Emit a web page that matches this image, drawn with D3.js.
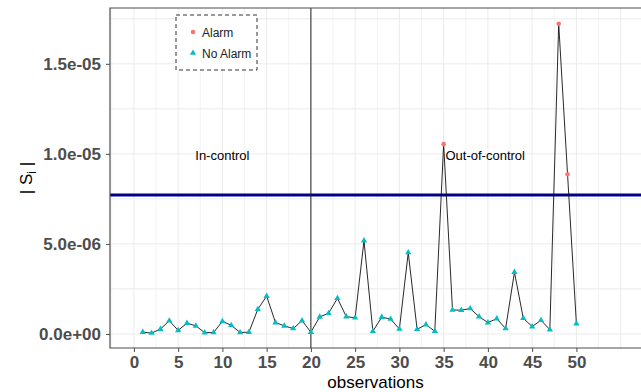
<!DOCTYPE html>
<html>
<head>
<meta charset="utf-8">
<script src="https://cdn.jsdelivr.net/npm/d3@7"></script>
<style>
  body { margin: 0; background: #fff; }
  svg { display: block; font-family: "Liberation Sans", Arial, sans-serif; }
</style>
</head>
<body>
<div id="chart"></div>
<script>
const observations = d3.range(1, 51);
const sValues = [
    1.0e-7, 0.5e-7, 2.7e-7, 7.3e-7, 2.0e-7, 6.0e-7, 4.5e-7, 0.7e-7, 0.8e-7, 7.0e-7,
    4.8e-7, 0.8e-7, 1.0e-7, 1.37e-6, 2.1e-6, 6.3e-7, 4.5e-7, 3.0e-7, 7.4e-7, 1.0e-7,
    9.5e-7, 1.15e-6, 1.98e-6, 9.6e-7, 9.0e-7, 5.18e-6, 1.5e-7, 9.3e-7, 8.3e-7, 2.8e-7,
    4.52e-6, 2.6e-7, 5.2e-7, 1.5e-7, 1.054e-5, 1.33e-6, 1.32e-6, 1.41e-6, 9.6e-7, 6.3e-7,
    8.5e-7, 3.0e-7, 3.43e-6, 8.7e-7, 4.1e-7, 7.6e-7, 2.4e-7, 1.722e-5, 8.87e-6, 5.7e-7
];
const alarmObs = [35, 48, 49];
const controlLimit = 7.72e-6;
const changePoint = 20;

const xTicks = d3.range(0, 51, 5);
const yTicks = [0, 5e-6, 1e-5, 1.5e-5];
const yTickLabels = ["0.0e+00", "5.0e-06", "1.0e-05", "1.5e-05"];
const regionLabels = [
    { text: "In-control", x: 10, y: 1e-5 },
    { text: "Out-of-control", x: 39.7, y: 1e-5 }
];
const legendItems = ["Alarm", "No Alarm"];
const legendColors = ["#F8766D", "#00BFC4"];

const width = 641, height = 392;
const margin = { top: 8, right: 0, bottom: 44, left: 110 };

const svg = d3.select("#chart").append("svg")
    .attr("width", width)
    .attr("height", height);

const x = d3.scaleLinear()
    .domain([-2.7, 57.3])
    .range([margin.left, width - margin.right]);
const y = d3.scaleLinear()
    .domain([-0.78e-6, 18.1e-6])
    .range([height - margin.bottom, margin.top]);

const [x0, x1] = x.range();
const [yBottom, yTop] = y.range();

// grid (major + minor)
const grid = svg.append("g");
const xGrid = d3.range(-2.5, 57.4, 2.5);
const yGrid = d3.range(0, 18.1e-6, 2.5e-6);
grid.selectAll(".vg").data(xGrid).enter().append("line")
    .attr("x1", d => x(d)).attr("x2", d => x(d))
    .attr("y1", yTop).attr("y2", yBottom)
    .attr("stroke", "#EBEBEB").attr("stroke-width", d => d % 5 === 0 ? 1 : 0.6);
grid.selectAll(".hg").data(yGrid).enter().append("line")
    .attr("x1", x0).attr("x2", x1)
    .attr("y1", d => y(d)).attr("y2", d => y(d))
    .attr("stroke", "#EBEBEB").attr("stroke-width", 1);

// control limit and change point
svg.append("line")
    .attr("x1", x0).attr("x2", x1)
    .attr("y1", y(controlLimit)).attr("y2", y(controlLimit))
    .attr("stroke", "#00008B").attr("stroke-width", 3);
svg.append("line")
    .attr("x1", x(changePoint)).attr("x2", x(changePoint))
    .attr("y1", yTop).attr("y2", yBottom)
    .attr("stroke", "#222").attr("stroke-width", 1);

// series line
const data = observations.map((o, i) => ({ obs: o, value: sValues[i], alarm: alarmObs.includes(o) }));
svg.append("path")
    .datum(data)
    .attr("fill", "none")
    .attr("stroke", "#111")
    .attr("stroke-width", 0.9)
    .attr("d", d3.line().x(d => x(d.obs)).y(d => y(d.value)));

// points
const tri = d3.symbol().type(d3.symbolTriangle).size(17);
svg.selectAll(".pt").data(data.filter(d => !d.alarm)).enter().append("path")
    .attr("d", tri)
    .attr("transform", d => `translate(${x(d.obs)},${y(d.value)})`)
    .attr("fill", legendColors[1]);
svg.selectAll(".al").data(data.filter(d => d.alarm)).enter().append("circle")
    .attr("cx", d => x(d.obs)).attr("cy", d => y(d.value))
    .attr("r", 2.3)
    .attr("fill", legendColors[0]);

// region labels
svg.selectAll(".rl").data(regionLabels).enter().append("text")
    .attr("x", d => x(d.x)).attr("y", d => y(d.y) + 6.5)
    .attr("text-anchor", "middle")
    .style("font-size", "13px")
    .attr("fill", "#000")
    .text(d => d.text);

// panel border
svg.append("path")
    .attr("d", `M${x1},${yTop}H${x0}V${yBottom}H${x1}`)
    .attr("fill", "none")
    .attr("stroke", "#4D4D4D")
    .attr("stroke-width", 1.2);

// axes
const xAxis = svg.append("g")
    .attr("transform", `translate(0,${yBottom})`)
    .call(d3.axisBottom(x).tickValues(xTicks).tickSize(4).tickPadding(4).tickSizeOuter(0));
xAxis.select(".domain").remove();
xAxis.selectAll("line").attr("stroke", "#4D4D4D");
xAxis.selectAll("text")
    .attr("fill", "#4D4D4D")
    .style("font-size", "17px")
    .style("font-weight", "bold")
    .style("font-family", "Liberation Sans, Arial, sans-serif");

const yAxis = svg.append("g")
    .attr("transform", `translate(${x0},0)`)
    .call(d3.axisLeft(y).tickValues(yTicks).tickSize(4).tickPadding(5)
        .tickFormat((d, i) => yTickLabels[i]).tickSizeOuter(0));
yAxis.select(".domain").remove();
yAxis.selectAll("line").attr("stroke", "#4D4D4D");
yAxis.selectAll("text")
    .attr("fill", "#4D4D4D")
    .style("font-size", "17px")
    .style("font-weight", "bold")
    .style("font-family", "Liberation Sans, Arial, sans-serif");

// axis titles
svg.append("text")
    .attr("x", (x0 + x1) / 2).attr("y", 388)
    .attr("text-anchor", "middle")
    .style("font-size", "17px")
    .text("observations");

const yTitle = svg.append("text")
    .attr("transform", `translate(32,${(yTop + yBottom) / 2}) rotate(-90)`)
    .attr("text-anchor", "middle")
    .style("font-size", "17px");
yTitle.append("tspan").text("| S");
yTitle.append("tspan").attr("dy", 4).style("font-size", "12px").text("i");
yTitle.append("tspan").attr("dy", -4).text(" |");

// legend
const legend = svg.append("g").attr("transform", "translate(176,15)");
legend.append("rect")
    .attr("width", 81).attr("height", 55)
    .attr("fill", "#fff")
    .attr("stroke", "#333")
    .attr("stroke-dasharray", "4,3");
legendItems.forEach((name, i) => {
    const g = legend.append("g").attr("transform", `translate(17,${17 + i * 21})`);
    if (i === 0) {
        g.append("circle").attr("r", 2.3).attr("fill", legendColors[0]);
    } else {
        g.append("path").attr("d", tri).attr("fill", legendColors[1]);
    }
    g.append("text")
        .attr("x", 9).attr("y", 4.5)
        .style("font-size", "12px")
        .attr("fill", "#222")
        .text(name);
});
</script>
</body>
</html>
